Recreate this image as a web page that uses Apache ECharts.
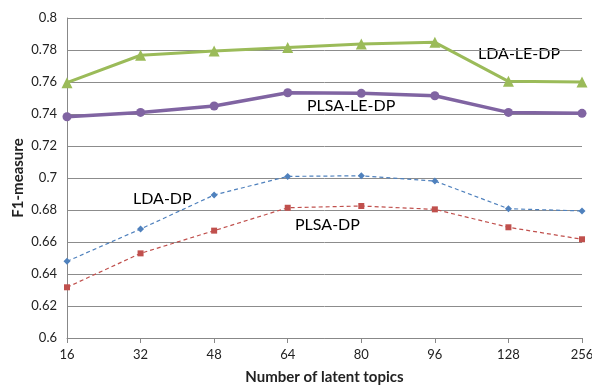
<!DOCTYPE html>
<html>
<head>
<meta charset="utf-8">
<script src="https://cdn.jsdelivr.net/npm/echarts@6/dist/echarts.min.js"></script>
<style>
html, body { margin: 0; padding: 0; background: #fff; }
#chart { width: 592px; height: 385px; }
</style>
</head>
<body>
<div id="chart"></div>
<script>
var topics = ['16', '32', '48', '64', '80', '96', '128', '256']
var ldaLeDp = [0.7596, 0.7767, 0.7794, 0.7815, 0.7838, 0.7848, 0.7604, 0.7600]
var plsaLeDp = [0.7383, 0.7410, 0.7450, 0.7533, 0.7529, 0.7514, 0.7410, 0.7404]
var ldaDp = [0.6479, 0.6681, 0.6894, 0.7010, 0.7014, 0.6981, 0.6808, 0.6794]
var plsaDp = [0.6317, 0.6529, 0.6671, 0.6814, 0.6825, 0.6804, 0.6692, 0.6617]
var yTicks = { min: 0.6, max: 0.8, step: 0.02 }

var font = 'Lato, "Open Sans", sans-serif'
var myChart = echarts.init(document.getElementById('chart'))

function textLabel(text, x, y) {
  return {
    type: 'text',
    left: x,
    top: y,
    style: { text: text, fill: '#000', font: '16px ' + font }
  }
}

myChart.setOption({
  animation: false,
  grid: { left: 67, right: 10, top: 18, bottom: 47, containLabel: false, outerBoundsMode: 'none' },
  xAxis: {
    type: 'category',
    data: topics,
    boundaryGap: false,
    name: 'Number of latent topics',
    nameLocation: 'middle',
    nameGap: 32,
    nameMoveOverlap: false,
    nameTextStyle: { color: '#222', fontWeight: 'bold', fontSize: 15, fontFamily: font },
    axisLine: { lineStyle: { color: '#888', width: 1 } },
    axisTick: { show: true, alignWithLabel: true, length: 5, lineStyle: { color: '#888' } },
    axisLabel: { color: '#222', fontSize: 13, fontFamily: font, margin: 10 },
    splitLine: { show: false }
  },
  yAxis: {
    type: 'value',
    min: yTicks.min,
    max: yTicks.max,
    interval: yTicks.step,
    name: 'F1-measure',
    nameLocation: 'middle',
    nameGap: 41,
    nameMoveOverlap: false,
    nameRotate: 90,
    nameTextStyle: { color: '#222', fontWeight: 'bold', fontSize: 15, fontFamily: font },
    axisLine: { show: true, lineStyle: { color: '#888' } },
    axisTick: { show: false },
    axisLabel: {
      color: '#222', fontSize: 13, fontFamily: font, margin: 10,
      formatter: function(v) { return String(Math.round(v * 100) / 100) }
    },
    splitLine: { lineStyle: { color: '#8c8c8c', width: 1 } }
  },
  series: [{
    name: 'LDA-LE-DP',
    type: 'line',
    data: ldaLeDp,
    symbol: 'triangle',
    symbolSize: 11,
    lineStyle: { color: '#9BBB59', width: 3 },
    itemStyle: { color: '#9BBB59' }
  }, {
    name: 'PLSA-LE-DP',
    type: 'line',
    data: plsaLeDp,
    symbol: 'circle',
    symbolSize: 9,
    lineStyle: { color: '#8064A2', width: 3.5 },
    itemStyle: { color: '#8064A2' }
  }, {
    name: 'LDA-DP',
    type: 'line',
    data: ldaDp,
    symbol: 'diamond',
    symbolSize: 7,
    lineStyle: { color: '#4F81BD', width: 1.2, type: [4, 3] },
    itemStyle: { color: '#4F81BD' }
  }, {
    name: 'PLSA-DP',
    type: 'line',
    data: plsaDp,
    symbol: 'rect',
    symbolSize: 6,
    lineStyle: { color: '#C0504D', width: 1.2, type: [4, 3] },
    itemStyle: { color: '#C0504D' }
  }],
  graphic: [
    textLabel('LDA-LE-DP', 478, 46),
    textLabel('PLSA-LE-DP', 307, 98),
    textLabel('LDA-DP', 133, 191),
    textLabel('PLSA-DP', 295, 217)
  ]
})
</script>
</body>
</html>
